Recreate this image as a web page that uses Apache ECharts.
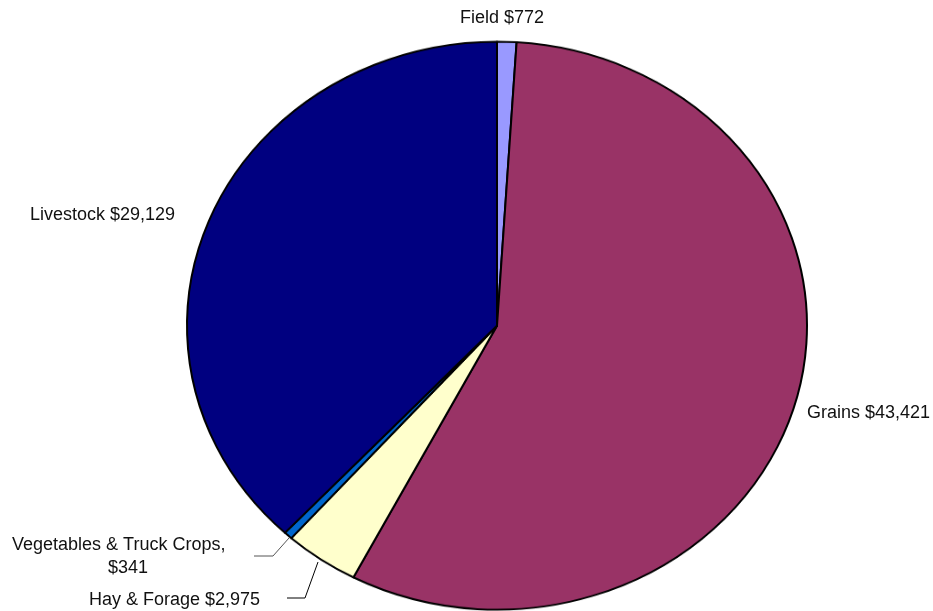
<!DOCTYPE html>
<html><head><meta charset="utf-8">
<script src="https://cdn.jsdelivr.net/npm/echarts@6/dist/echarts.min.js"></script>
<style>
html,body{margin:0;padding:0;background:#fff;}
#wrap{position:relative;width:933px;height:611px;overflow:hidden;background:#fff;}
#pie{position:absolute;left:0;top:0;width:933px;height:667px;transform:scaleY(0.9161);transform-origin:0 0;}
#lab{position:absolute;left:0;top:0;width:933px;height:611px;}
</style></head>
<body><div id="wrap"><div id="pie"></div><div id="lab"></div></div>
<script>
const categories = ["Field", "Grains", "Hay & Forage", "Vegetables & Truck Crops", "Livestock"];
const values = [772, 43421, 2975, 341, 29129];
const colors = ["#9999FF", "#993366", "#FFFFCC", "#0066CC", "#000080"];
const labelTexts = ["Field $772", "Grains $43,421", "Hay & Forage $2,975", "Vegetables & Truck Crops,", "$341", "Livestock $29,129"];

const pie = echarts.init(document.getElementById('pie'), null, {renderer:'canvas'});
pie.setOption({
  animation:false,
  backgroundColor:'transparent',
  series:[{
    type:'pie',
    center:[497, 355.5],
    radius:[0, 310],
    startAngle:90,
    clockwise:true,
    label:{show:false},
    labelLine:{show:false},
    emphasis:{disabled:true},
    itemStyle:{borderColor:'#000', borderWidth:2},
    data: categories.map((c,i)=>({name:c, value:values[i], itemStyle:{color:colors[i]}}))
  }]
});

const lab = echarts.init(document.getElementById('lab'), null, {renderer:'canvas'});
const font = '18px "Liberation Sans", Arial, sans-serif';
const txt = (s, x, y, align) => ({type:'text', x:x, y:y, style:{text:s, font:font, fill:'#111', textAlign:align||'left', textVerticalAlign:'middle'}});
lab.setOption({
  animation:false,
  backgroundColor:'transparent',
  graphic:[
    txt(labelTexts[0], 502, 18, 'center'),
    txt(labelTexts[1], 807, 413, 'left'),
    txt(labelTexts[5], 30, 215, 'left'),
    txt(labelTexts[3], 12, 545, 'left'),
    txt(labelTexts[4], 128, 568, 'center'),
    txt(labelTexts[2], 89, 600, 'left'),
    {type:'polyline', shape:{points:[[289,538],[273,556],[254,556]]}, style:{stroke:'#555', lineWidth:1, fill:null}},
    {type:'polyline', shape:{points:[[318,562],[305,598],[287,598]]}, style:{stroke:'#000', lineWidth:1, fill:null}}
  ]
});
</script></body></html>
